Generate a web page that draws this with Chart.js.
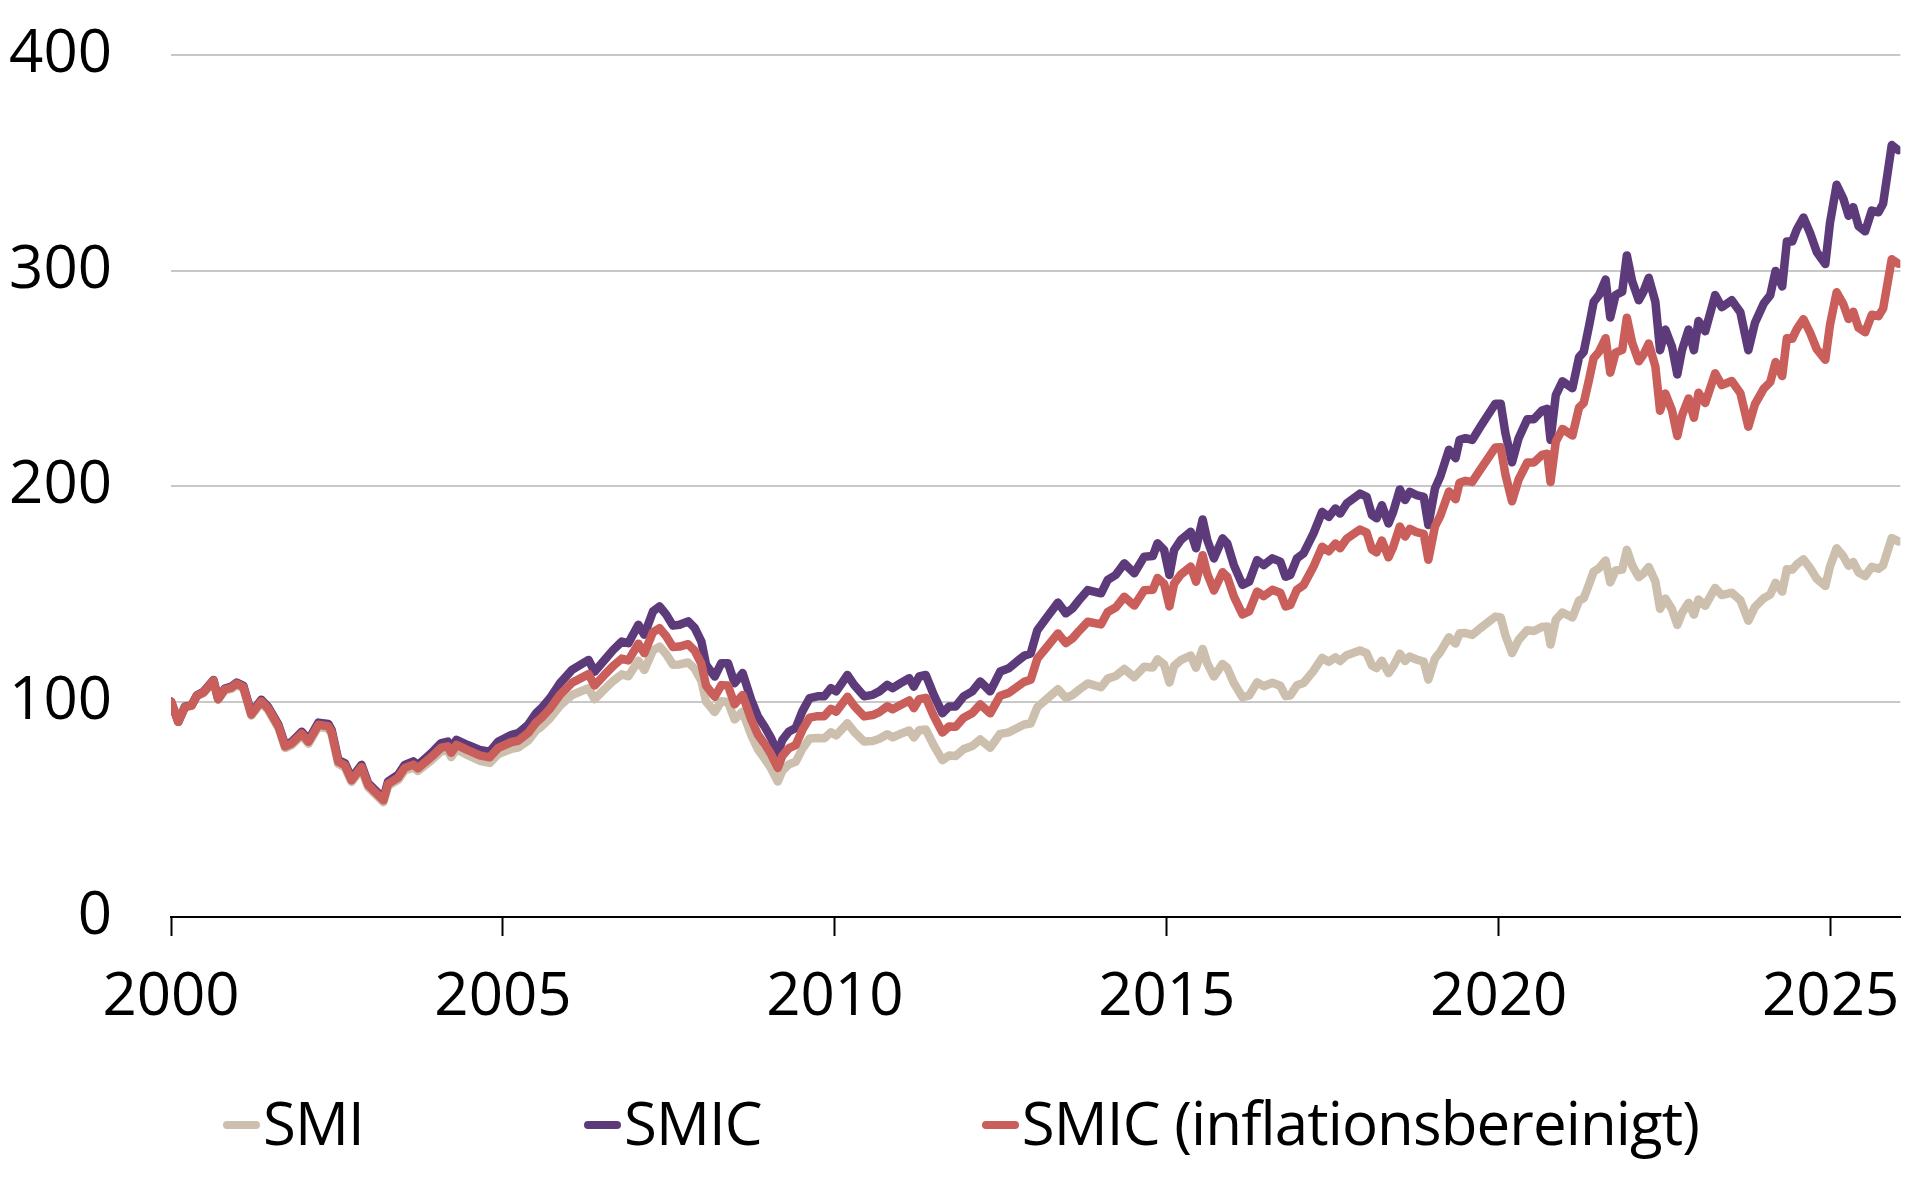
<!DOCTYPE html>
<html lang="de">
<head>
<meta charset="utf-8">
<title>SMI und SMIC</title>
<style>
  html, body { margin: 0; padding: 0; background: #fff; }
  #wrap { position: relative; width: 1920px; height: 1200px; font-family: "Open Sans", sans-serif; }
  #chartBox { position: absolute; left: 0; top: 0; width: 1920px; height: 1060px; }
  #legend { position: absolute; left: 223px; top: 1086px; display: flex; gap: 220px; font-size: 60px; line-height: 72px; letter-spacing: -0.9px; color: #000; }
  .item { display: flex; align-items: center; white-space: nowrap; }
  .swatch { width: 37px; height: 8px; border-radius: 4px; margin-right: 3px; position: relative; top: 3px; }
</style>
</head>
<body>
<div id="wrap">
  <div id="chartBox"><canvas id="chart"></canvas></div>
  <div id="legend"></div>
</div>

<script src="https://cdn.jsdelivr.net/npm/chart.js/dist/chart.umd.min.js"></script>
<script>
// data (index, 2000 = 100)
const dates = [
  2000.0, 2000.11, 2000.21, 2000.31, 2000.39, 2000.49, 2000.64, 2000.71, 2000.81, 2000.91, 2000.99,
  2001.09, 2001.21, 2001.36, 2001.46, 2001.62, 2001.72, 2001.82, 2001.97,
  2002.07, 2002.22, 2002.37, 2002.42, 2002.52, 2002.62, 2002.72, 2002.87, 2002.97,
  2003.07, 2003.2, 2003.27, 2003.42, 2003.52, 2003.65, 2003.72, 2003.92,
  2004.07, 2004.17, 2004.22, 2004.3, 2004.47, 2004.65, 2004.8, 2004.93,
  2005.13, 2005.23, 2005.38, 2005.5, 2005.58, 2005.71, 2005.86,
  2006.04, 2006.29, 2006.38, 2006.53, 2006.66, 2006.79, 2006.89,
  2007.04, 2007.13, 2007.26, 2007.36, 2007.46, 2007.56, 2007.66, 2007.79, 2007.89, 2007.99,
  2008.06, 2008.19, 2008.29, 2008.39, 2008.49, 2008.61, 2008.74, 2008.84, 2008.94,
  2009.04, 2009.14, 2009.21, 2009.31, 2009.41, 2009.51, 2009.62, 2009.74, 2009.84, 2009.94,
  2010.02, 2010.19, 2010.29, 2010.44, 2010.57, 2010.67, 2010.79, 2010.87, 2010.99,
  2011.12, 2011.19, 2011.27, 2011.37, 2011.49, 2011.62, 2011.72, 2011.82, 2011.94,
  2012.07, 2012.19, 2012.34, 2012.49, 2012.62, 2012.74, 2012.85, 2012.95,
  2013.05, 2013.2, 2013.36, 2013.48, 2013.58, 2013.68, 2013.81,
  2014.01, 2014.11, 2014.23, 2014.36, 2014.51, 2014.66, 2014.79, 2014.86, 2014.96,
  2015.04, 2015.11, 2015.21, 2015.36, 2015.44, 2015.54, 2015.61, 2015.71, 2015.84, 2015.91,
  2016.01, 2016.14, 2016.24, 2016.36, 2016.46, 2016.59, 2016.71, 2016.79, 2016.86, 2016.96,
  2017.06, 2017.21, 2017.34, 2017.44, 2017.54, 2017.61, 2017.71, 2017.91,
  2018.01, 2018.09, 2018.16, 2018.24, 2018.34, 2018.41, 2018.51, 2018.59, 2018.66, 2018.76, 2018.87, 2018.94,
  2019.04, 2019.12, 2019.25, 2019.35, 2019.41, 2019.5, 2019.6, 2019.73, 2019.83, 2019.95,
  2020.03, 2020.1, 2020.2, 2020.3, 2020.43, 2020.53, 2020.65, 2020.73, 2020.78, 2020.86, 2020.96,
  2021.11, 2021.21, 2021.28, 2021.36, 2021.43, 2021.51, 2021.61, 2021.68, 2021.76, 2021.86, 2021.93,
  2022.01, 2022.11, 2022.18, 2022.26, 2022.36, 2022.43, 2022.51, 2022.61, 2022.69, 2022.76, 2022.86, 2022.94,
  2023.01, 2023.11, 2023.26, 2023.36, 2023.51, 2023.64, 2023.76, 2023.86, 2023.99,
  2024.09, 2024.17, 2024.27, 2024.34, 2024.42, 2024.49, 2024.59, 2024.69, 2024.79, 2024.92, 2024.99,
  2025.09, 2025.19, 2025.27, 2025.34, 2025.42, 2025.52, 2025.62, 2025.72, 2025.79, 2025.92, 2026.02
];

const smiValues = [
  100, 90.5, 97.4, 98.0, 102.5, 104.0, 109.3, 100.8, 105.2, 105.9, 107.7,
  106.1, 93.5, 99.4, 96.1, 87.7, 78.4, 79.8, 84.3,
  80.4, 88.2, 87.5, 84.7, 71.1, 69.4, 62.7, 68.6, 60.2,
  57.2, 53.3, 60.8, 63.6, 68.0, 69.3, 67.8, 72.7,
  76.9, 77.3, 74.2, 77.8, 75.1, 72.5, 71.5, 75.6,
  78.1, 78.6, 81.9, 86.6, 88.4, 92.3, 98.1,
  103.0, 106.2, 101.1, 105.7, 109.5, 112.6, 111.7,
  118.9, 114.6, 123.7, 125.5, 121.9, 117.1, 117.2, 118.1, 115.2, 109.5,
  100.0, 95.1, 100.1, 99.8, 91.7, 95.3, 84.5, 77.8, 73.6,
  68.9, 62.9, 67.9, 70.9, 72.0, 78.0, 82.8, 83.1, 82.9, 85.7,
  84.3, 89.9, 86.0, 81.4, 81.7, 82.7, 84.8, 83.4, 85.0,
  86.5, 83.3, 86.7, 87.0, 79.6, 72.8, 74.9, 74.7, 77.9,
  79.3, 82.4, 78.5, 85.0, 85.7, 87.6, 89.3, 89.8,
  97.4, 101.4, 105.7, 101.7, 103.0, 105.5, 108.4,
  106.6, 110.6, 111.8, 115.1, 111.3, 116.1, 115.8, 119.6, 117.1,
  108.8, 116.5, 119.2, 121.3, 115.7, 124.4, 117.7, 111.6, 117.4, 115.6,
  108.6, 102.0, 102.7, 108.9, 107.1, 108.7, 107.3, 102.5, 102.8, 107.5,
  108.6, 114.2, 120.2, 118.4, 120.5, 118.8, 121.5, 123.7,
  122.4, 116.7, 115.5, 118.9, 113.2, 116.2, 122.2, 118.8, 120.8, 119.5, 118.5, 110.2,
  120.0, 123.0, 129.8, 126.9, 131.7, 131.8, 130.9, 134.2, 136.6, 139.4,
  139.0, 130.8, 122.5, 128.6, 133.1, 132.7, 134.6, 134.8, 126.4, 138.0, 141.3,
  139.0, 146.8, 147.9, 154.3, 160.3, 161.8, 165.4, 155.3, 160.8, 161.2, 170.4,
  163.2, 157.7, 159.4, 162.4, 155.7, 143.0, 147.8, 142.8, 135.5, 141.0, 145.8, 140.3,
  147.3, 144.4, 152.7, 149.4, 150.5, 147.0, 137.5, 143.9, 147.9,
  149.6, 155.1, 151.0, 161.4, 161.1, 163.6, 166.0, 161.9, 157.0, 153.6, 162.7,
  171.1, 167.4, 163.0, 164.7, 159.9, 158.2, 162.5, 161.6, 163.2, 175.9, 174.3
];

const smicValues = [
  100, 90.6, 97.6, 98.3, 102.9, 104.5, 110, 101.4, 106, 106.9, 108.8,
  107.3, 94.6, 100.8, 97.6, 89.1, 79.8, 81.3, 86,
  82.1, 90.2, 89.6, 86.8, 72.9, 71.3, 64.4, 70.6, 62.1,
  59, 55.1, 62.9, 66, 70.6, 72.2, 70.6, 76,
  80.7, 81.4, 78.3, 82.2, 79.8, 77.5, 76.7, 81.4,
  84.5, 85.3, 89.2, 94.6, 96.9, 101.6, 108.5,
  114.7, 119.3, 113.8, 119.3, 123.9, 127.8, 127.1,
  135.6, 131, 141.8, 144.1, 140.3, 135.2, 135.6, 137.2, 134.1, 127.8,
  117, 111.6, 117.8, 117.8, 108.5, 113.2, 100.8, 93.1, 88.4,
  83, 76, 82.2, 86.1, 87.7, 95.4, 101.6, 102.4, 102.4, 106.2,
  104.7, 112.3, 107.7, 102.4, 103.1, 104.7, 107.7, 106.2, 108.5,
  110.8, 106.9, 111.6, 112.3, 103.1, 94.6, 97.7, 97.7, 102.4,
  104.7, 109.3, 104.7, 113.9, 115.4, 118.5, 121.2, 122.3,
  133.1, 139.3, 145.9, 140.9, 143.2, 147.1, 151.7,
  150.2, 156.4, 158.7, 164.1, 159.5, 167.2, 167.5, 173.4, 170.3,
  158.7, 170.3, 174.9, 178.8, 171.1, 184.5, 174.9, 166.4, 175.7, 173.4,
  163.3, 154.1, 155.6, 165.6, 163.3, 166.4, 164.9, 157.9, 158.7, 166.4,
  168.7, 178, 188, 185.7, 189.6, 187.2, 191.9, 196.5,
  195, 186.5, 185, 191.1, 182.6, 188, 198.4, 193.5, 197.3, 195.8, 195, 181.9,
  198.9, 204.4, 216.8, 212.9, 221.4, 222.2, 221.4, 227.8, 232.6, 238.2,
  238.2, 224.6, 211, 222.2, 231, 231, 235, 235.8, 221.4, 242.2, 248.6,
  245.4, 259.8, 262.2, 274.2, 285.4, 288.6, 295.8, 278.2, 288.6, 290.2, 307,
  295, 286.2, 290.2, 296.6, 285.4, 263, 272.6, 264.6, 251.8, 263, 272.6, 263,
  276.6, 271.8, 288.6, 283, 286.2, 280.6, 263, 275.8, 284.6,
  288.6, 299.8, 292.6, 313.4, 313.4, 319, 324.6, 317.4, 308.6, 303, 322.2,
  339.8, 333.4, 325.4, 329.4, 320.6, 318.2, 327.8, 327, 331, 358.2, 355.8
];

const smicRealValues = [
  100, 90.6, 97.5, 98.1, 102.7, 104.2, 109.7, 101.1, 105.6, 106.4, 108.3,
  106.7, 94.0, 100.1, 96.9, 88.4, 79.1, 80.6, 85.1,
  81.3, 89.2, 88.5, 85.8, 72.0, 70.4, 63.5, 69.6, 61.2,
  58.1, 54.2, 61.8, 64.7, 69.2, 70.7, 69.0, 74.2,
  78.6, 79.2, 76.2, 79.9, 77.4, 75.0, 74.1, 78.5,
  81.2, 81.8, 85.4, 90.3, 92.4, 96.7, 103.1,
  108.7, 112.7, 107.4, 112.4, 116.5, 119.9, 119.1,
  126.8, 122.4, 132.2, 134.0, 130.3, 125.3, 125.5, 126.6, 123.5, 117.5,
  107.4, 102.2, 107.6, 107.4, 98.7, 103.0, 91.7, 84.7, 80.4,
  75.5, 69.2, 74.8, 78.4, 79.8, 86.8, 92.5, 93.2, 93.2, 96.6,
  95.3, 102.2, 98.0, 93.1, 93.7, 95.1, 97.8, 96.4, 98.4,
  100.5, 96.9, 101.1, 101.7, 93.3, 85.6, 88.4, 88.3, 92.5,
  94.6, 98.7, 94.5, 102.7, 104.0, 106.7, 109.1, 110.1,
  119.9, 125.5, 131.6, 127.1, 129.3, 132.8, 137.0,
  135.8, 141.5, 143.6, 148.6, 144.5, 151.6, 151.9, 157.3, 154.6,
  144.1, 154.7, 158.9, 162.6, 155.6, 167.9, 159.2, 151.5, 160.0, 157.9,
  148.8, 140.4, 141.8, 151.0, 148.9, 151.8, 150.5, 144.1, 144.8, 151.9,
  154.0, 162.6, 171.8, 169.7, 173.3, 171.1, 175.5, 179.8,
  178.4, 170.6, 169.2, 174.7, 166.9, 171.7, 181.2, 176.6, 180.1, 178.6, 177.8, 165.8,
  181.3, 186.2, 197.4, 193.8, 201.5, 202.4, 201.9, 207.9, 212.5, 217.9,
  218.0, 205.4, 192.9, 203.0, 210.9, 210.9, 214.4, 215.0, 201.9, 220.7, 226.5,
  223.4, 236.4, 238.5, 249.3, 259.4, 262.2, 268.6, 252.6, 261.9, 263.2, 278.1,
  266.5, 257.9, 261.0, 266.1, 255.4, 234.9, 242.9, 235.1, 223.2, 232.7, 240.6, 231.7,
  243.3, 238.5, 252.3, 246.8, 248.7, 243.1, 227.5, 238.0, 245.1,
  248.2, 257.5, 251.0, 268.6, 268.3, 272.8, 277.4, 271.2, 263.5, 258.6, 274.8,
  289.9, 284.4, 277.5, 280.9, 273.4, 271.3, 279.5, 278.8, 282.3, 305.2, 303.1
];

const seriesNames = ['SMI', 'SMIC', 'SMIC (inflationsbereinigt)'];
const xTickYears = [2000, 2005, 2010, 2015, 2020, 2025];
const yTickValues = [0, 100, 200, 300, 400];

// styles
const seriesColors = ['#cdbfad', '#5d3b7b', '#c95e5a'];
const yFont = { family: '"Open Sans", sans-serif', size: 60 };
const xFont = { family: '"Open Sans", sans-serif', size: 60, lineHeight: 1.4 };

const datasets = [smiValues, smicValues, smicRealValues].map((vals, i) => ({
  label: seriesNames[i],
  data: vals.map((v, k) => ({ x: dates[k], y: v })),
  borderColor: seriesColors[i],
  backgroundColor: seriesColors[i],
  borderWidth: 8.5,
  pointRadius: 0,
  tension: 0,
  borderJoinStyle: 'round',
  borderCapStyle: 'round',
  order: 3 - i   // SMI at the bottom, inflation adjusted on top
}));

const chart = new Chart(document.getElementById('chart'), {
  type: 'line',
  data: { datasets: datasets },
  options: {
    responsive: true,
    maintainAspectRatio: false,
    animation: false,
    layout: { padding: { top: 55, right: 18, left: 0, bottom: 0 } },
    plugins: {
      legend: { display: false },
      tooltip: { enabled: false }
    },
    scales: {
      x: {
        type: 'linear',
        min: 2000,
        max: 2026.05,
        afterBuildTicks: (s) => { s.ticks = xTickYears.map((v) => ({ value: v })); },
        afterFit: (s) => { s.height = 143; },
        grid: { drawOnChartArea: false, drawTicks: true, tickLength: 19, tickColor: '#000', tickWidth: 2 },
        border: { display: true, color: '#000', width: 2 },
        ticks: { padding: 20, color: '#000', font: xFont, maxRotation: 0, autoSkip: false, callback: (v) => String(v) }
      },
      y: {
        min: 0,
        max: 400,
        afterBuildTicks: (s) => { s.ticks = yTickValues.map((v) => ({ value: v })); },
        afterFit: (s) => { s.width = 171; },
        grid: {
          drawTicks: true,
          tickLength: 59,
          tickColor: 'rgba(0,0,0,0)',
          lineWidth: 2,
          color: (c) => (c.tick && c.tick.value === 0) ? 'rgba(0,0,0,0)' : '#c8c8c8'
        },
        border: { display: false },
        ticks: { padding: 0, color: '#000', font: yFont, callback: (v) => String(v) }
      }
    }
  }
});

// legend below the chart
const legendEl = document.getElementById('legend');
chart.data.datasets.forEach((ds) => {
  const item = document.createElement('div');
  item.className = 'item';
  const sw = document.createElement('span');
  sw.className = 'swatch';
  sw.style.background = ds.borderColor;
  const tx = document.createElement('span');
  tx.textContent = ds.label;
  item.append(sw, tx);
  legendEl.appendChild(item);
});
</script>
</body>
</html>
